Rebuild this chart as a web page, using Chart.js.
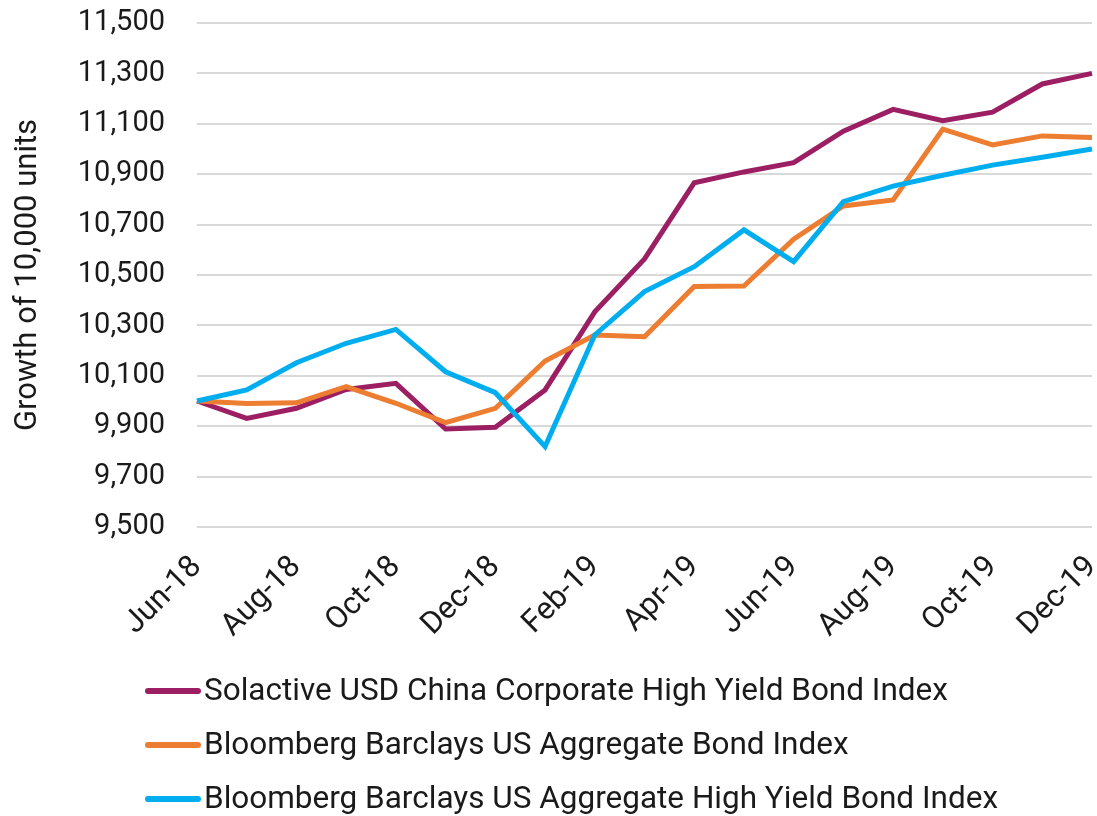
<!DOCTYPE html>
<html>
<head>
<meta charset="utf-8">
<script src="https://cdn.jsdelivr.net/npm/chart.js@4/dist/chart.umd.min.js"></script>
<style>
    body { margin: 0; background: #ffffff; }
    #grafico { display: block; }
</style>
</head>
<body>
<canvas id="grafico" width="1097" height="816"></canvas>
<script>
var meses = ['Jun-18', 'Jul-18', 'Aug-18', 'Sep-18', 'Oct-18', 'Nov-18', 'Dec-18',
    'Jan-19', 'Feb-19', 'Mar-19', 'Apr-19', 'May-19', 'Jun-19', 'Jul-19',
    'Aug-19', 'Sep-19', 'Oct-19', 'Nov-19', 'Dec-19'];

// only every other month gets a label on the axis
var mesesVisiveis = ['Jun-18', 'Aug-18', 'Oct-18', 'Dec-18', 'Feb-19', 'Apr-19',
    'Jun-19', 'Aug-19', 'Oct-19', 'Dec-19'];

var nomesSeries = [
    'Solactive USD China Corporate High Yield Bond Index',
    'Bloomberg Barclays US Aggregate Bond Index',
    'Bloomberg Barclays US Aggregate High Yield Bond Index'
];

var solactive = [10000, 9931, 9971, 10046, 10070, 9889, 9896, 10044, 10354, 10564,
    10866, 10909, 10946, 11071, 11157, 11112, 11146, 11258, 11300];
var aggregate = [10000, 9990, 9993, 10057, 9991, 9914, 9971, 10159, 10262, 10255,
    10454, 10456, 10642, 10774, 10798, 11079, 11016, 11052, 11046];
var highYield = [10000, 10044, 10152, 10229, 10284, 10116, 10033, 9819, 10262, 10434,
    10533, 10679, 10553, 10791, 10853, 10896, 10936, 10967, 11000];

var yMin = 9500;
var yMax = 11500;
var yPasso = 200;

var cores = ['#9b1f62', '#ed7d31', '#00aeef'];
var fonte = "Roboto, 'Noto Sans', sans-serif";

// legend drawn by hand, one item per line, left aligned like the original
var legendaManual = {
    id: 'legendaManual',
    afterDraw: function (chart) {
        var ctx = chart.ctx;
        var sets = chart.data.datasets;
        ctx.save();
        ctx.font = '31.5px ' + fonte;
        ctx.textBaseline = 'middle';
        ctx.textAlign = 'left';
        for (var i = 0; i < sets.length; i++) {
            var y = 691 + i * 54;
            ctx.strokeStyle = sets[i].borderColor;
            ctx.lineWidth = 6;
            ctx.lineCap = 'round';
            ctx.beginPath();
            ctx.moveTo(148, y);
            ctx.lineTo(198, y);
            ctx.stroke();
            ctx.fillStyle = '#1a1a1a';
            ctx.fillText(sets[i].label, 204, y + 1);
        }
        ctx.restore();
    }
};

var config = {
    type: 'line',
    data: {
        labels: meses,
        datasets: [{
            label: nomesSeries[0],
            data: solactive,
            borderColor: cores[0],
            backgroundColor: cores[0],
            order: 2
        }, {
            label: nomesSeries[1],
            data: aggregate,
            borderColor: cores[1],
            backgroundColor: cores[1],
            order: 1
        }, {
            label: nomesSeries[2],
            data: highYield,
            borderColor: cores[2],
            backgroundColor: cores[2],
            order: 0
        }]
    },
    options: {
        responsive: false,
        animation: false,
        devicePixelRatio: 1,
        layout: {
            padding: { top: 23, right: 5, bottom: 159, left: 0 }
        },
        elements: {
            line: { borderWidth: 5, tension: 0 },
            point: { radius: 0, hoverRadius: 0 }
        },
        plugins: {
            legend: { display: false },
            tooltip: { enabled: false }
        },
        scales: {
            x: {
                offset: false,
                grid: { display: false },
                border: { display: false },
                ticks: {
                    autoSkip: false,
                    minRotation: 45,
                    maxRotation: 45,
                    padding: 14,
                    color: '#1a1a1a',
                    font: { family: fonte, size: 31 },
                    callback: function (valor, indice) {
                        var rotulo = meses[indice];
                        return mesesVisiveis.indexOf(rotulo) >= 0 ? rotulo : '';
                    }
                },
                afterFit: function (escala) {
                    escala.height = 130;
                    escala.paddingLeft = 0;
                    escala.paddingRight = 0;
                }
            },
            y: {
                min: yMin,
                max: yMax,
                grid: { color: '#d9d9d9', lineWidth: 2, drawTicks: false },
                border: { display: false },
                ticks: {
                    stepSize: yPasso,
                    padding: 32,
                    color: '#1a1a1a',
                    font: { family: fonte, size: 29 },
                    callback: function (valor) {
                        return valor.toLocaleString('en-US');
                    }
                },
                title: {
                    display: true,
                    text: 'Growth of 10,000 units',
                    color: '#1a1a1a',
                    font: { family: fonte, size: 31 },
                    padding: { top: 10, bottom: 0 }
                },
                afterFit: function (escala) {
                    escala.width = 197;
                    escala.paddingTop = 0;
                    escala.paddingBottom = 0;
                }
            }
        }
    },
    plugins: [legendaManual]
};

window.grafico = new Chart(document.getElementById('grafico').getContext('2d'), config);
console.log('area', JSON.stringify(window.grafico.chartArea));
</script>
</body>
</html>
